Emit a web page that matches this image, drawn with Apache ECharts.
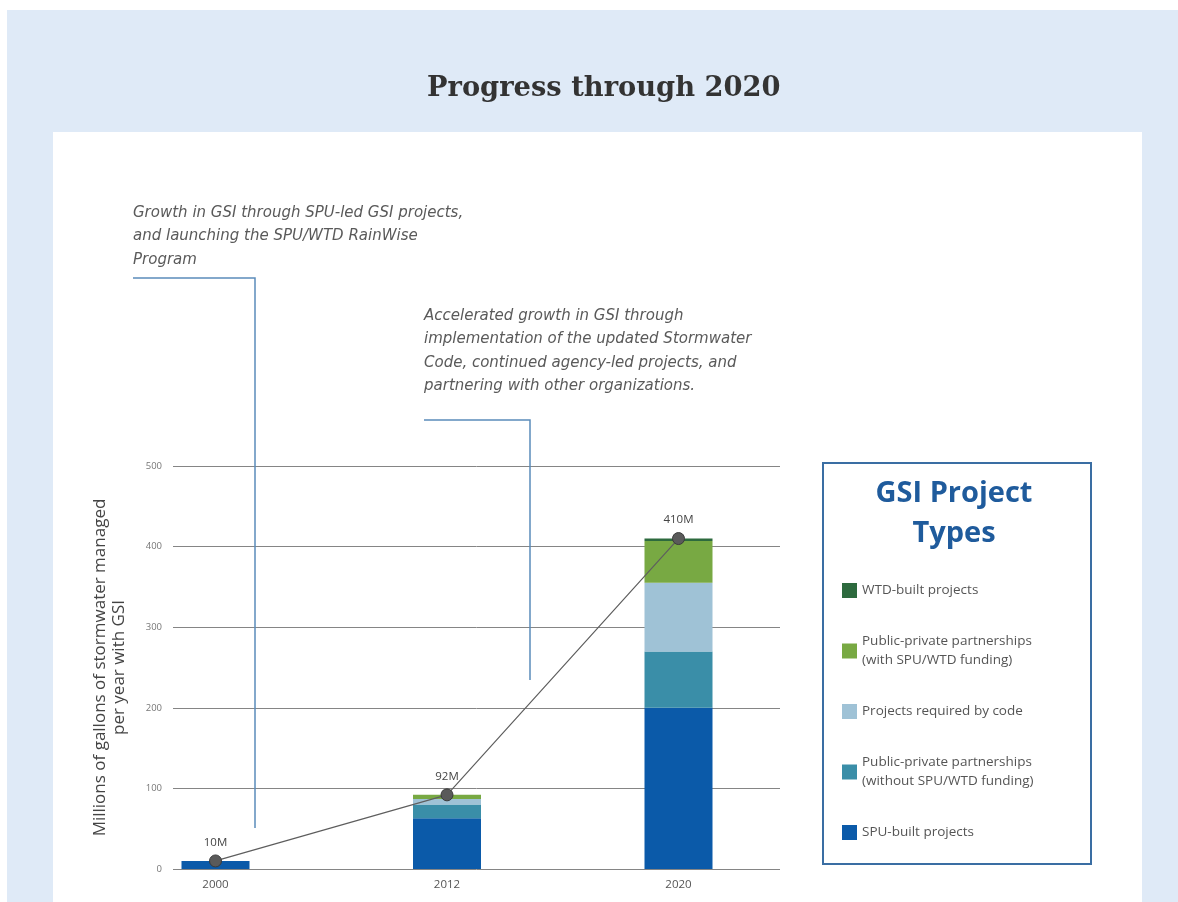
<!DOCTYPE html>
<html>
<head>
<meta charset="utf-8">
<title>Progress through 2020</title>
<script src="https://cdn.jsdelivr.net/npm/echarts@6/dist/echarts.min.js"></script>
<style>
  html, body { margin: 0; padding: 0; background: #ffffff; }
  #panel { position: absolute; left: 7px; top: 10px; right: 0; bottom: 0; background: #dfeaf7; }
  #card { position: absolute; left: 53px; top: 132px; width: 1089px; bottom: 0; background: #ffffff; }
  #chart { position: absolute; left: 0; top: 0; width: 1178px; height: 902px; }
</style>
</head>
<body>
<div id="panel"></div>
<div id="card"></div>
<div id="chart"></div>
<script>
// Years shown on the category axis
const years = ['2000', '2012', '2020'];

// Stormwater managed by GSI, millions of gallons per year, by project type
const spuBuilt = [10, 63, 200];
const ppWithoutFunding = [0, 17, 70];
const requiredByCode = [0, 7, 85];
const ppWithFunding = [0, 5, 52];
const wtdBuilt = [0, 0, 3];

// Running total marked by the trend line
const totals = [10, 92, 410];
const totalLabels = ['10M', '92M', '410M'];

// Value axis range
const yMin = 0;
const yMax = 500;
const yStep = 100;

const seriesNames = {
  spu: 'SPU-built projects',
  ppNo: 'Public-private partnerships\n(without SPU/WTD funding)',
  code: 'Projects required by code',
  ppYes: 'Public-private partnerships\n(with SPU/WTD funding)',
  wtd: 'WTD-built projects'
};

const colors = {
  spu: '#0b5aa9',
  ppNo: '#3a8ea8',
  code: '#9fc2d6',
  ppYes: '#78a943',
  wtd: '#2d6a3e'
};

const chart = echarts.init(document.getElementById('chart'), null, { renderer: 'canvas' });

function barSeries(key, values) {
  return {
    name: seriesNames[key],
    type: 'bar',
    stack: 'gsi',
    xAxisIndex: 0,
    yAxisIndex: 0,
    barWidth: 68,
    itemStyle: { color: colors[key] },
    emphasis: { disabled: true },
    data: values
  };
}

const noteFont = { fontSize: 15, fontStyle: 'italic', fontFamily: '"DejaVu Sans", sans-serif', fill: '#5a5a5a', lineHeight: 23.5 };
const connectorStyle = { stroke: '#5b8cba', lineWidth: 1.5, fill: null };

const option = {
  animation: false,
  title: {
    text: 'Progress through 2020',
    left: 422,
    top: 70,
    textStyle: { fontFamily: '"DejaVu Serif", serif', fontWeight: 'bold', fontSize: 27.3, color: '#333333' }
  },
  grid: [
    // plotting grid for bars and the total line
    { left: 99.75, top: 466, width: 694.5, height: 403 },
    // grid carrying the horizontal rules and value labels
    { left: 173, top: 466, width: 607, height: 403 }
  ],
  xAxis: [
    {
      type: 'category',
      gridIndex: 0,
      data: years,
      axisLine: { show: false },
      axisTick: { show: false },
      axisLabel: { color: '#555555', fontSize: 11.5, fontFamily: '"Open Sans", sans-serif', margin: 10 }
    },
    { type: 'value', gridIndex: 1, show: false, min: 0, max: 1 }
  ],
  yAxis: [
    { type: 'value', gridIndex: 0, min: yMin, max: yMax, show: false },
    {
      type: 'value',
      gridIndex: 1,
      min: yMin,
      max: yMax,
      interval: yStep,
      axisLine: { show: false },
      axisTick: { show: false },
      splitLine: { lineStyle: { color: '#858585', width: 1 } },
      axisLabel: { color: '#777777', fontSize: 9.5, fontFamily: '"Open Sans", sans-serif', margin: 11 },
      name: 'Millions of gallons of stormwater managed\nper year with GSI',
      nameLocation: 'middle',
      nameRotate: 90,
      nameGap: 44,
      nameTextStyle: { color: '#444444', fontSize: 17, fontFamily: '"Open Sans", sans-serif', lineHeight: 19 }
    }
  ],
  legend: {
    orient: 'vertical',
    left: 837,
    top: 576,
    itemWidth: 15,
    itemHeight: 15,
    itemGap: 32,
    icon: 'rect',
    selectedMode: false,
    data: [seriesNames.wtd, seriesNames.ppYes, seriesNames.code, seriesNames.ppNo, seriesNames.spu],
    textStyle: { color: '#555555', fontSize: 13.5, fontFamily: '"Open Sans", sans-serif', lineHeight: 19 }
  },
  graphic: [
    // legend frame
    { type: 'rect', shape: { x: 823, y: 463, width: 268, height: 401 }, style: { fill: null, stroke: '#3a6ea3', lineWidth: 2 }, z: 1 },
    {
      type: 'text', x: 954, y: 474,
      style: { text: 'GSI Project\nTypes', align: 'center', fontSize: 29, fontWeight: 'bold', fontFamily: '"Open Sans", sans-serif', fill: '#1f5b9c', lineHeight: 40 },
      z: 1
    },
    // first annotation
    { type: 'text', x: 133, y: 201, style: Object.assign({ text: 'Growth in GSI through SPU-led GSI projects,\nand launching the SPU/WTD RainWise\nProgram' }, noteFont), z: 5 },
    { type: 'polyline', shape: { points: [[133, 278], [255, 278], [255, 828]] }, style: connectorStyle, z: 5 },
    // second annotation
    { type: 'text', x: 424, y: 304, style: Object.assign({ text: 'Accelerated growth in GSI through\nimplementation of the updated Stormwater\nCode, continued agency-led projects, and\npartnering with other organizations.' }, noteFont), z: 5 },
    { type: 'polyline', shape: { points: [[424, 420], [530, 420], [530, 680]] }, style: connectorStyle, z: 5 }
  ],
  series: [
    barSeries('spu', spuBuilt),
    barSeries('ppNo', ppWithoutFunding),
    barSeries('code', requiredByCode),
    barSeries('ppYes', ppWithFunding),
    barSeries('wtd', wtdBuilt),
    {
      name: 'Total',
      type: 'line',
      xAxisIndex: 0,
      yAxisIndex: 0,
      data: totals,
      z: 10,
      symbol: 'circle',
      symbolSize: 12,
      lineStyle: { color: '#5e5e5e', width: 1.2 },
      itemStyle: { color: '#5a5a5a', borderColor: '#3a3a3a', borderWidth: 1 },
      emphasis: { disabled: true },
      label: {
        show: true,
        position: 'top',
        distance: 6,
        color: '#444444',
        fontSize: 11.5,
        fontFamily: '"Open Sans", sans-serif',
        formatter: (p) => totalLabels[p.dataIndex]
      }
    }
  ]
};

chart.setOption(option);
</script>
</body>
</html>
